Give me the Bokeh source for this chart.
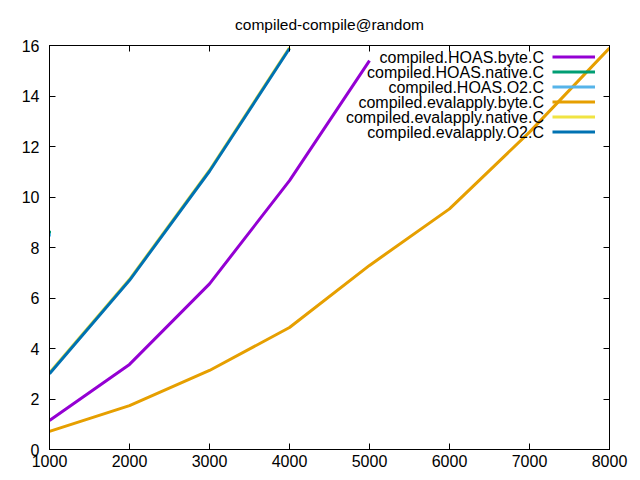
from bokeh.plotting import figure
from bokeh.models import (LinearAxis, Range1d, Label, Legend, LegendItem,
                          FixedTicker)
from bokeh.embed import file_html
from bokeh.resources import INLINE

title_text = "compiled-compile@random"

series_names = ["compiled.HOAS.byte.C", "compiled.HOAS.native.C", "compiled.HOAS.O2.C",
                "compiled.evalapply.byte.C", "compiled.evalapply.native.C",
                "compiled.evalapply.O2.C"]
series_colors = ["#9400d3", "#009e73", "#56b4e9", "#e69f00", "#f0e442", "#0072b2"]

hoas_byte_x = [1000, 2000, 3000, 4000, 5000]
hoas_byte_y = [1.15, 3.37, 6.56, 10.65, 15.4]
hoas_native_x = [1000]
hoas_native_y = [8.6]
hoas_o2_x = [1000]
hoas_o2_y = [8.5]
eval_byte_x = [1000, 2000, 3000, 4000, 5000, 6000, 7000, 8000]
eval_byte_y = [0.72, 1.74, 3.13, 4.83, 7.29, 9.53, 12.57, 15.9]
eval_native_x = [1000, 2000, 3000, 4000]
eval_native_y = [3.04, 6.74, 11.06, 15.92]
eval_o2_x = [1000, 2000, 3000, 4000]
eval_o2_y = [3.0, 6.7, 11.02, 15.88]

x_ticks = [1000, 2000, 3000, 4000, 5000, 6000, 7000, 8000]
y_ticks = [0, 2, 4, 6, 8, 10, 12, 14, 16]

FONT = "Liberation Sans"

p = figure(frame_width=560, frame_height=404, output_backend="svg",
           toolbar_location=None, x_range=Range1d(1000, 8000), y_range=Range1d(0, 16),
           min_border_left=49, min_border_top=45, min_border_right=31, min_border_bottom=31,
           x_axis_location=None, y_axis_location=None)
p.xgrid.visible = False
p.ygrid.visible = False
p.outline_line_color = "black"
p.outline_line_width = 1
p.background_fill_color = "white"
p.border_fill_color = "white"

p.title.text = title_text
p.title.align = "center"
p.title.text_font = FONT
p.title.text_font_size = "15.5px"
p.title.text_font_style = "normal"
p.title.text_color = "black"
p.title.standoff = 26


def style_axis(ax, ticks, show_labels):
    ax.ticker = FixedTicker(ticks=ticks)
    ax.axis_line_color = "black"
    ax.major_tick_line_color = "black"
    ax.major_tick_in = 6
    ax.major_tick_out = 0
    ax.minor_tick_line_color = None
    ax.major_label_text_font = FONT
    ax.major_label_text_color = "black"
    if show_labels:
        ax.major_label_text_font_size = "16px"
    else:
        ax.major_label_text_font_size = "1px"
        ax.major_label_text_color = None
        ax.major_label_standoff = 0


xb = LinearAxis()
style_axis(xb, x_ticks, True)
xb.major_label_standoff = 5
p.add_layout(xb, "below")
yl = LinearAxis()
style_axis(yl, y_ticks, True)
yl.major_label_standoff = 10
p.add_layout(yl, "left")
xa = LinearAxis()
style_axis(xa, x_ticks, False)
p.add_layout(xa, "above")
yr = LinearAxis()
style_axis(yr, y_ticks, False)
p.add_layout(yr, "right")

LW = 3
xs = [hoas_byte_x, hoas_native_x, hoas_o2_x, eval_byte_x, eval_native_x, eval_o2_x]
ys = [hoas_byte_y, hoas_native_y, hoas_o2_y, eval_byte_y, eval_native_y, eval_o2_y]
draw_order = [4, 5, 0, 3, 1, 2]
renderers = {}
for i in draw_order:
    r = p.line(xs[i], ys[i], line_color=series_colors[i], line_width=LW)
    renderers[i] = r
    if len(xs[i]) == 1:
        p.scatter(xs[i], ys[i], marker="square", size=3, line_color=None,
                  fill_color=series_colors[i])

items = [LegendItem(label=series_names[i], renderers=[renderers[i]]) for i in range(6)]
legend = Legend(items=items, location=(503, 310), glyph_width=43, glyph_height=15,
                spacing=0, padding=0, margin=0, label_text_font_size="1px",
                label_text_color=None,
                label_width=0, label_standoff=0, label_height=15,
                border_line_color=None, background_fill_alpha=0)
p.add_layout(legend, "center")

for i, name in enumerate(series_names):
    p.add_layout(Label(x=494.5, y=392.3 - 15 * i, x_units="screen", y_units="screen",
                       text=name, text_align="right", text_baseline="middle",
                       text_font=FONT, text_font_size="16px", text_color="black"))

open("out.html", "w").write(file_html(p, INLINE))
